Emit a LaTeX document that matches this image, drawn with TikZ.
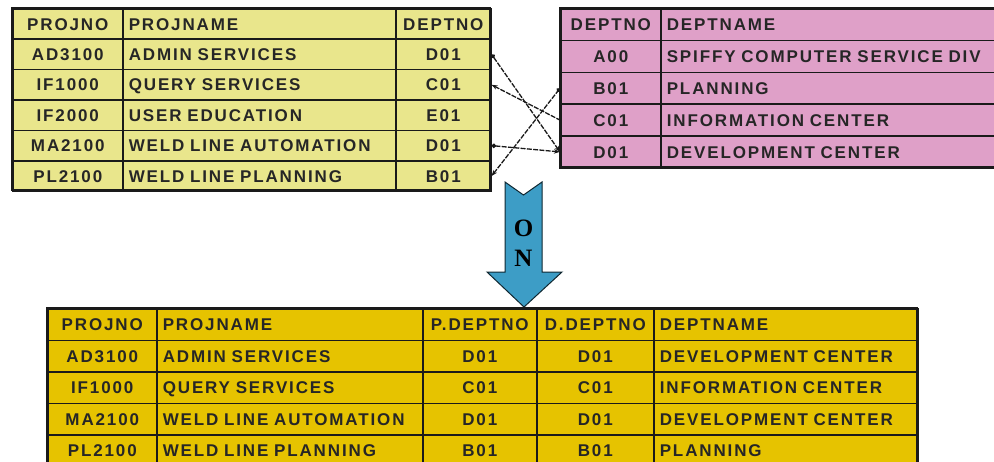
\documentclass[tikz,border=0pt]{standalone}
\usepackage{fontspec}
\usetikzlibrary{arrows.meta}
\newfontfamily\tbl[LetterSpace=11]{Liberation Sans}
\newfontfamily\onfont{Liberation Serif}
\definecolor{projfill}{HTML}{E9E68C}
\definecolor{deptfill}{HTML}{DFA0C8}
\definecolor{joinfill}{HTML}{E6C300}
\definecolor{arrowblue}{HTML}{3D9DC6}
\definecolor{gridline}{HTML}{1A1A1A}

\tikzset{
  cell/.style={draw=gridline, line width=1.6pt, inner ysep=0pt, anchor=north west,
    font=\tbl\bfseries\fontsize{17}{19}\selectfont, text=black!85, text height=12.2pt, text depth=0pt},
  % centred cell: width, height
  ccell/.style 2 args={cell, inner xsep=0pt, minimum width=#1pt, minimum height=#2pt},
  % left-aligned cell: text width (cell width minus 12), height
  lcell/.style 2 args={cell, inner xsep=6pt, text width=#1pt, align=left, minimum height=#2pt},
  frame/.style={draw=gridline, line width=2.6pt},
  link/.style={draw=black!90, line width=1.3pt, dash pattern=on 5pt off 1.3pt},
}

\begin{document}
\begin{tikzpicture}[x=1pt, y=-1pt]
\useasboundingbox (0,0) rectangle (994,461);
\clip (0,0) rectangle (994,461);

% ---------- PROJECT table ----------
\begin{scope}[every node/.append style={fill=projfill}]
\node[ccell={110}{30.4}] (ph1) at (12,8) {PROJNO};
\node[lcell={261}{30.4}] (ph2) at (122,8) {PROJNAME};
\node[ccell={95}{30.4}]  (ph3) at (395,8) {DEPTNO};
\foreach \i/\pno/\pnm/\pdep in
  {1/AD3100/ADMIN SERVICES/D01,
   2/IF1000/QUERY SERVICES/C01,
   3/IF2000/USER EDUCATION/E01,
   4/MA2100/WELD LINE AUTOMATION/D01,
   5/PL2100/WELD LINE PLANNING/B01}{
  \pgfmathsetmacro\yy{8+30.4*\i}
  \node[ccell={110}{30.4}] (p\i a) at (12,\yy) {\pno};
  \node[lcell={261}{30.4}] (p\i b) at (122,\yy) {\pnm};
  \node[ccell={95}{30.4}]  (p\i c) at (395,\yy) {\pdep};
}
\end{scope}
\draw[frame] (12,8) rectangle (490,190);

% ---------- DEPARTMENT table ----------
\begin{scope}[every node/.append style={fill=deptfill}]
\node[ccell={100}{31.8}] (dh1) at (560,8) {DEPTNO};
\node[lcell={428}{31.8}] (dh2) at (660,8) {DEPTNAME};
\foreach \i/\dno/\dnm in
  {1/A00/SPIFFY COMPUTER SERVICE DIV,
   2/B01/PLANNING,
   3/C01/INFORMATION CENTER,
   4/D01/DEVELOPMENT CENTER}{
  \pgfmathsetmacro\yy{8+31.8*\i}
  \node[ccell={100}{31.8}] (d\i a) at (560,\yy) {\dno};
  \node[lcell={428}{31.8}] (d\i b) at (660,\yy) {\dnm};
}
\end{scope}
\draw[frame] (560,8) rectangle (1100,167.2);

% ---------- join predicate links ----------
\draw[link, {Circle[length=4.5pt]}-{Stealth[length=6pt]}] (p1c.east) -- (d4a.west);
\draw[link, {Stealth[length=6pt]}-] (p2c.east) -- (d3a.west);
\draw[link, {Circle[length=4.5pt]}-{Stealth[length=6pt]}] (p4c.east) -- (d4a.west);
\draw[link, {Stealth[length=6pt]}-{Circle[length=4.5pt]}] (p5c.east) -- (d2a.west);

% ---------- ON arrow ----------
\filldraw[fill=arrowblue, draw=black!75!arrowblue, line width=1pt, line join=miter]
  (505,182) -- (523.5,195) -- (542,182) -- (542,272) -- (562,272)
  -- (524,307) -- (487,272) -- (505,272) -- cycle;
\node[font=\onfont\bfseries\fontsize{25}{27}\selectfont, inner sep=0pt] (onO) at (523.5,228) {O};
\node[font=\onfont\bfseries\fontsize{25}{27}\selectfont, inner sep=0pt] (onN) at (523.5,258) {N};

% ---------- result table ----------
\begin{scope}[every node/.append style={fill=joinfill}]
\node[ccell={109}{31.5}] (rh1) at (47,308) {PROJNO};
\node[lcell={254}{31.5}] (rh2) at (156,308) {PROJNAME};
\node[ccell={114}{31.5}] (rh3) at (422,308) {P.DEPTNO};
\node[ccell={117}{31.5}] (rh4) at (536,308) {D.DEPTNO};
\node[lcell={252}{31.5}] (rh5) at (653,308) {DEPTNAME};
\foreach \i/\rno/\rnm/\rdep/\rdnm in
  {1/AD3100/ADMIN SERVICES/D01/DEVELOPMENT CENTER,
   2/IF1000/QUERY SERVICES/C01/INFORMATION CENTER,
   3/MA2100/WELD LINE AUTOMATION/D01/DEVELOPMENT CENTER,
   4/PL2100/WELD LINE PLANNING/B01/PLANNING}{
  \pgfmathsetmacro\yy{308+31.5*\i}
  \node[ccell={109}{31.5}] (r\i a) at (47,\yy) {\rno};
  \node[lcell={254}{31.5}] (r\i b) at (156,\yy) {\rnm};
  \node[ccell={114}{31.5}] (r\i c) at (422,\yy) {\rdep};
  \node[ccell={117}{31.5}] (r\i d) at (536,\yy) {\rdep};
  \node[lcell={252}{31.5}] (r\i e) at (653,\yy) {\rdnm};
}
\end{scope}
\draw[frame] (47,308) rectangle (917,466);
\end{tikzpicture}
\end{document}
